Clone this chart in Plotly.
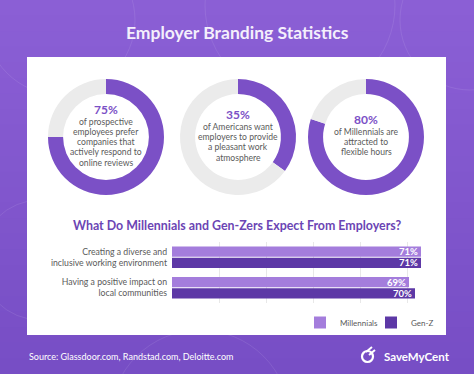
import plotly.graph_objects as go

# ---------------- data ----------------
title = "Employer Branding Statistics"
donut_values = [75, 35, 80]
donut_texts = [
    ["of prospective", "employees prefer", "companies that", "actively respond to", "online reviews"],
    ["of Americans want", "employers to provide", "a pleasant work", "atmosphere"],
    ["of Millennials are", "attracted to", "flexible hours"],
]
subtitle = "What Do Millennials and Gen-Zers Expect From Employers?"
bar_categories = ["Creating a diverse and<br>inclusive working environment",
                  "Having a positive impact on<br>local communities"]
millennials = [71, 69]
genz = [71, 70]
series_names = ["Millennials", "Gen-Z"]
source_text = "Source: Glassdoor.com, Randstad.com, Deloitte.com"
brand = "SaveMyCent"

# ---------------- layout helpers ----------------
W, H = 474, 374
def fx(x): return x / W
def fy(y): return 1 - y / H

PURPLE = "#7b50c6"
RING_GRAY = "#ebebeb"
LIGHT = "#a47ddc"
DARK = "#5d38a6"
TEXT_GRAY = "#5a5a5a"
FONT = "Lato"

fig = go.Figure()

centers = [(106, 137), (238, 137), (366, 137)]
R = 58
LS = 10.2      # line spacing of the donut captions
GAP = 12.5     # percent -> first caption line
annotations = []
for (cx, cy), v, lines in zip(centers, donut_values, donut_texts):
    fig.add_trace(go.Pie(
        values=[v, 100 - v], marker=dict(colors=[PURPLE, RING_GRAY], line=dict(width=0)),
        hole=0.74, direction="clockwise", rotation=0, sort=False,
        textinfo="none", hoverinfo="skip", showlegend=False,
        domain=dict(x=[fx(cx - R), fx(cx + R)], y=[fy(cy + R), fy(cy - R)]),
    ))
    n = len(lines)
    py = cy - 1 - (GAP + LS * (n - 1)) / 2
    annotations.append(dict(x=fx(cx), y=fy(py), xref="paper", yref="paper", showarrow=False,
                            text=f"<b>{v}%</b>", font=dict(family=FONT, size=12, color=PURPLE),
                            xanchor="center", yanchor="middle"))
    for k, ln in enumerate(lines):
        annotations.append(dict(x=fx(cx), y=fy(py + GAP + LS * k), xref="paper", yref="paper",
                                showarrow=False, text=ln,
                                font=dict(family=FONT, size=8.6, color=TEXT_GRAY),
                                xanchor="center", yanchor="middle"))

for name, vals, col in zip(series_names, [millennials, genz], [LIGHT, DARK]):
    fig.add_trace(go.Bar(
        y=bar_categories, x=vals, name=name, orientation="h",
        marker=dict(color=col, line=dict(width=0)),
        texttemplate="<b>%{x}%</b>", textposition="inside", insidetextanchor="end",
        textfont=dict(family=FONT, size=9.5, color="white"), constraintext="none",
        hoverinfo="skip",
    ))

# text annotations
annotations += [
    dict(x=0.5, y=fy(32), xref="paper", yref="paper", showarrow=False, text=f"<b>{title}</b>",
         font=dict(family=FONT, size=17.5, color="#f4effc"), xanchor="center", yanchor="middle"),
    dict(x=fx(237), y=fy(225), xref="paper", yref="paper", showarrow=False, text=f"<b>{subtitle}</b>",
         font=dict(family=FONT, size=12.4, color="#6b45b4"), xanchor="center", yanchor="middle"),
    dict(x=fx(27), y=fy(356), xref="paper", yref="paper", showarrow=False, text=source_text,
         font=dict(family=FONT, size=9, color="white"), xanchor="left", yanchor="middle"),
    dict(x=fx(382), y=fy(356), xref="paper", yref="paper", showarrow=False, text=f"<b>{brand}</b>",
         font=dict(family=FONT, size=11.5, color="white"), xanchor="left", yanchor="middle"),
]

shapes = []
# vertical background gradient in bands
top_c, bot_c = (0x8b, 0x5f, 0xd5), (0x77, 0x4e, 0xc5)
NB = 24
for i in range(NB):
    t = i / (NB - 1)
    c = tuple(round(a + (b - a) * t) for a, b in zip(top_c, bot_c))
    shapes.append(dict(type="rect", xref="paper", yref="paper", layer="below",
                       x0=0, x1=1, y0=1 - (i + 1) / NB - 0.002, y1=1 - i / NB,
                       fillcolor="rgb(%d,%d,%d)" % c, line=dict(width=0)))
# faint decorative arcs in the background
for (cx, cy, r) in [(60, 20, 75), (300, 5, 95), (470, 20, 70), (40, 260, 60), (200, 420, 90)]:
    shapes.append(dict(type="circle", xref="paper", yref="paper", layer="below",
                       x0=fx(cx - r), x1=fx(cx + r), y0=fy(cy + r), y1=fy(cy - r),
                       line=dict(color="rgba(255,255,255,0.09)", width=1)))
# white panel
shapes.append(dict(type="rect", xref="paper", yref="paper", layer="below",
                   x0=fx(27), x1=fx(446), y0=fy(335), y1=fy(57),
                   fillcolor="white", line=dict(width=0)))
# logo mark
shapes.append(dict(type="circle", xref="paper", yref="paper",
                   x0=fx(362), x1=fx(373), y0=fy(362), y1=fy(351),
                   line=dict(color="white", width=2.2)))
shapes.append(dict(type="line", xref="paper", yref="paper",
                   x0=fx(366), x1=fx(372), y0=fy(352), y1=fy(347),
                   line=dict(color="white", width=2)))
shapes.append(dict(type="line", xref="paper", yref="paper",
                   x0=fx(369), x1=fx(375), y0=fy(355), y1=fy(350),
                   line=dict(color="white", width=2)))

# bar axis: ticks only for the gridlines
x0v, step = 29.5, 47 / 6
grid_vals = [x0v + step * i for i in range(6)]

fig.update_layout(
    width=W, height=H, margin=dict(l=0, r=0, t=0, b=0),
    paper_bgcolor="#8058ca", plot_bgcolor="rgba(0,0,0,0)",
    barmode="group", bargap=0.25, bargroupgap=0.1,
    xaxis=dict(domain=[fx(172), fx(430)], range=[x0v, 72.5], tickvals=grid_vals,
               showticklabels=False, showgrid=True, gridcolor="#e8e8e8", gridwidth=1,
               zeroline=False, showline=False, fixedrange=True),
    yaxis=dict(domain=[fy(303), fy(242)], autorange="reversed", showgrid=False,
               ticks="", ticklabelstandoff=4, zeroline=False, showline=False,
               tickfont=dict(family=FONT, size=8.7, color=TEXT_GRAY)),
    legend=dict(orientation="h", x=fx(300), y=fy(308), xanchor="left", yanchor="top",
                font=dict(family=FONT, size=8, color=TEXT_GRAY), bgcolor="rgba(0,0,0,0)",
                itemwidth=30, traceorder="normal", entrywidth=26, entrywidthmode="pixels"),
    annotations=annotations, shapes=shapes, showlegend=True,
)

fig.write_html("out.html")
